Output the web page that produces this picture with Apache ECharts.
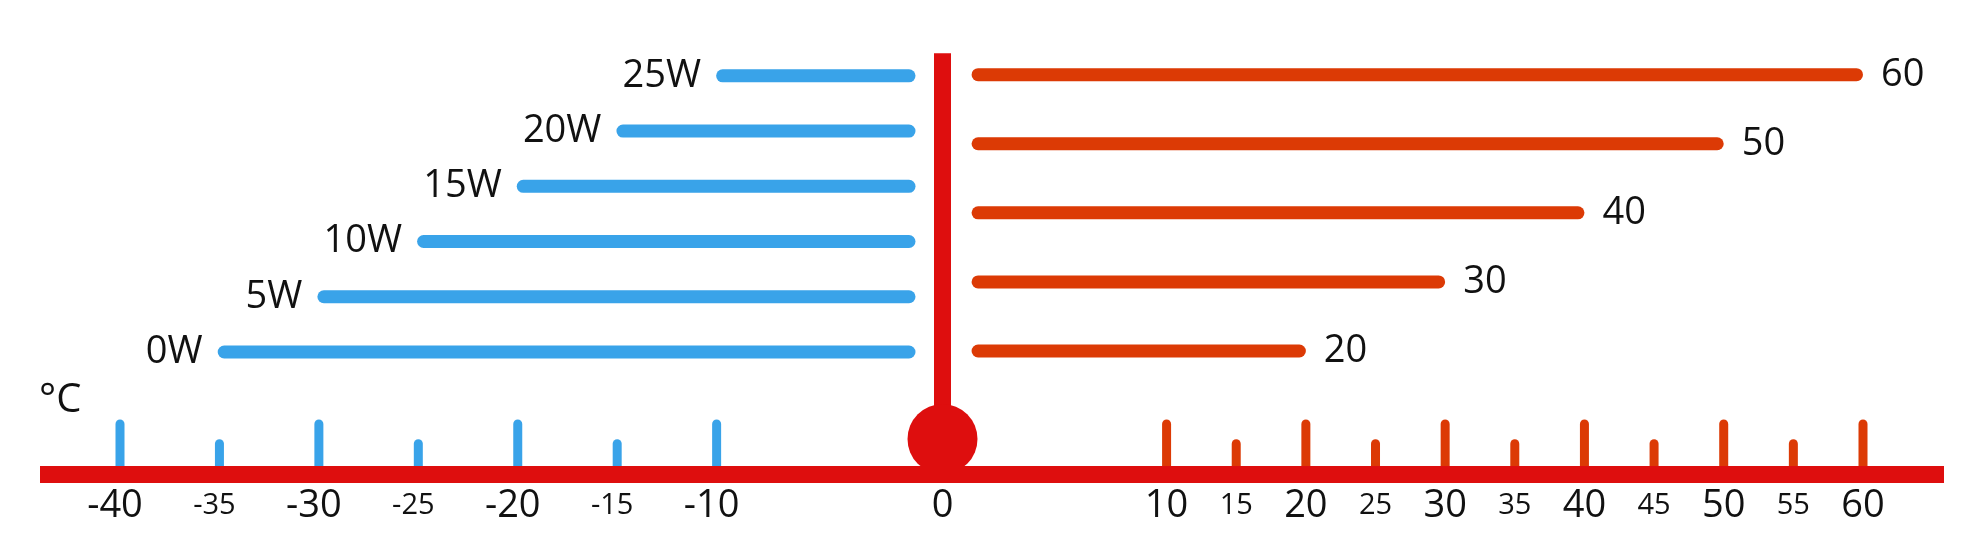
<!DOCTYPE html>
<html><head><meta charset="utf-8">
<script src="https://cdn.jsdelivr.net/npm/echarts@6/dist/echarts.min.js"></script>
<style>html,body{margin:0;padding:0;background:#fff}#chart{width:1964px;height:554px}</style>
</head><body><div id="chart"></div>
<script>
// ---- data ----
const leftCategories = ['0W', '5W', '10W', '15W', '20W', '25W'];
const leftValues = [-35, -30, -25, -20, -15, -10];
const rightCategories = ['20', '30', '40', '50', '60'];
const rightValues = [20, 30, 40, 50, 60];
const leftTickValues = [-40, -35, -30, -25, -20, -15, -10];
const rightTickValues = [10, 15, 20, 25, 30, 35, 40, 45, 50, 55, 60];
const centerLabels = ['0'];
const unitText = '°C';

// ---- styles / layout ----
const FONT = "'Open Sans', 'Noto Sans', sans-serif";
const BLUE = '#39A3E9';
const ORANGE = '#DC3A05';
const THERMO = '#DE0E0E';
const TEXT = '#111';
const BAR_H = 13;
const TICK_W = 9;
const MAJOR_LEN = 46.5;
const MINOR_LEN = 26.7;
const RIGHT_BAR_START = -4;
const BULB_LEVEL = 0.0654;

function hBar(base, color, labels, pos, dist) {
  return function (params, api) {
    const v = api.value(0), c = api.value(1);
    const p1 = api.coord([base, c]), p2 = api.coord([v, c]);
    const x = Math.min(p1[0], p2[0]), w = Math.abs(p2[0] - p1[0]);
    return {
      type: 'rect',
      shape: { x: x, y: p1[1] - BAR_H / 2, width: w, height: BAR_H, r: BAR_H / 2 },
      style: { fill: color },
      textContent: { style: { text: labels[params.dataIndex], fontSize: 38, fontFamily: FONT, fill: TEXT } },
      textConfig: { position: pos, distance: dist }
    };
  };
}
function tickMark(color) {
  return function (params, api) {
    const v = api.value(0);
    const p = api.coord([v, 0]);
    const len = (v % 10 === 0) ? MAJOR_LEN : MINOR_LEN;
    return {
      type: 'rect',
      shape: { x: p[0] - TICK_W / 2, y: p[1] - len, width: TICK_W, height: len, r: [TICK_W / 2, TICK_W / 2, 0, 0] },
      style: { fill: color }
    };
  };
}
function tickLabel(values, padRight) {
  return {
    margin: 20,
    formatter: function (v) {
      if (values.indexOf(v) < 0) return '';
      return (v % 10 === 0 ? '{b|' : '{s|') + v + '}';
    },
    rich: {
      b: { fontSize: 38, lineHeight: 40, fontFamily: FONT, color: TEXT, padding: [0, padRight, 0, 0] },
      s: { fontSize: 29, lineHeight: 40, fontFamily: FONT, color: TEXT, padding: [0, padRight, 0, 0] }
    }
  };
}
const hidden = { show: false };
const gridBase = { outerBoundsMode: 'none', containLabel: false };

const chart = echarts.init(document.getElementById('chart'), null, { renderer: 'canvas' });
chart.setOption({
  animation: false,
  backgroundColor: '#fff',
  title: { text: unitText, left: 39, top: 380, padding: 0,
    textStyle: { fontSize: 40, fontWeight: 'normal', fontFamily: FONT, color: TEXT, lineHeight: 42 } },
  grid: [
    Object.assign({ left: 118, top: 75.8, width: 797.5, height: 276.2 }, gridBase),   // 0 left bars
    Object.assign({ left: 120, top: 400, width: 795.5, height: 66 }, gridBase),       // 1 left ticks
    Object.assign({ left: 1027.3, top: 74.7, width: 835.7, height: 276.3 }, gridBase),// 2 right bars
    Object.assign({ left: 1027.3, top: 400, width: 835.7, height: 66 }, gridBase),    // 3 right ticks
    Object.assign({ left: 907.5, top: 53.3, width: 70, height: 412.7 }, gridBase),    // 4 thermometer
    Object.assign({ left: 40, top: 400, width: 1904, height: 74.5 }, gridBase)        // 5 base line
  ],
  xAxis: [
    { gridIndex: 0, type: 'value', min: -40, max: 0, show: false },
    { gridIndex: 1, type: 'value', min: -40, max: 0, interval: 5, axisLine: hidden, axisTick: hidden,
      splitLine: hidden, axisLabel: tickLabel(leftTickValues, 10) },
    { gridIndex: 2, type: 'value', min: 0, max: 60, show: false },
    { gridIndex: 3, type: 'value', min: 0, max: 60, interval: 5, axisLine: hidden, axisTick: hidden,
      splitLine: hidden, axisLabel: tickLabel(rightTickValues, 0) },
    { gridIndex: 4, type: 'category', data: centerLabels, boundaryGap: true, axisLine: hidden, axisTick: hidden,
      axisLabel: { margin: 20, fontSize: 38, lineHeight: 40, fontFamily: FONT, color: TEXT } },
    { gridIndex: 5, type: 'value', min: 0, max: 1, position: 'bottom', splitLine: hidden, axisTick: hidden,
      axisLabel: hidden, axisLine: { show: true, lineStyle: { color: THERMO, width: 17, cap: 'butt' } }, z: 5 }
  ],
  yAxis: [
    { gridIndex: 0, type: 'category', data: leftCategories, boundaryGap: false, show: false },
    { gridIndex: 1, type: 'value', min: 0, max: 1, show: false },
    { gridIndex: 2, type: 'category', data: rightCategories, boundaryGap: false, show: false },
    { gridIndex: 3, type: 'value', min: 0, max: 1, show: false },
    { gridIndex: 4, type: 'value', min: 0, max: 1, show: false },
    { gridIndex: 5, type: 'value', min: 0, max: 1, show: false }
  ],
  series: [
    { type: 'custom', xAxisIndex: 0, yAxisIndex: 0, silent: true,
      data: leftValues.map((v, i) => [v, i]), encode: { x: 0, y: 1 },
      renderItem: hBar(0, BLUE, leftCategories, 'left', 15) },
    { type: 'custom', xAxisIndex: 2, yAxisIndex: 2, silent: true,
      data: rightValues.map((v, i) => [v, i]), encode: { x: 0, y: 1 },
      renderItem: hBar(RIGHT_BAR_START, ORANGE, rightCategories, 'right', 18) },
    { type: 'custom', xAxisIndex: 1, yAxisIndex: 1, silent: true,
      data: leftTickValues.map(v => [v]), encode: { x: 0 },
      renderItem: tickMark(BLUE) },
    { type: 'custom', xAxisIndex: 3, yAxisIndex: 3, silent: true,
      data: rightTickValues.map(v => [v]), encode: { x: 0 },
      renderItem: tickMark(ORANGE) },
    { type: 'bar', xAxisIndex: 4, yAxisIndex: 4, silent: true, data: [1], barWidth: 17,
      itemStyle: { color: THERMO } },
    { type: 'scatter', xAxisIndex: 4, yAxisIndex: 4, silent: true, data: [[0, BULB_LEVEL]],
      symbol: 'circle', symbolSize: 70, itemStyle: { color: THERMO, opacity: 1 } }
  ]
});
</script></body></html>
